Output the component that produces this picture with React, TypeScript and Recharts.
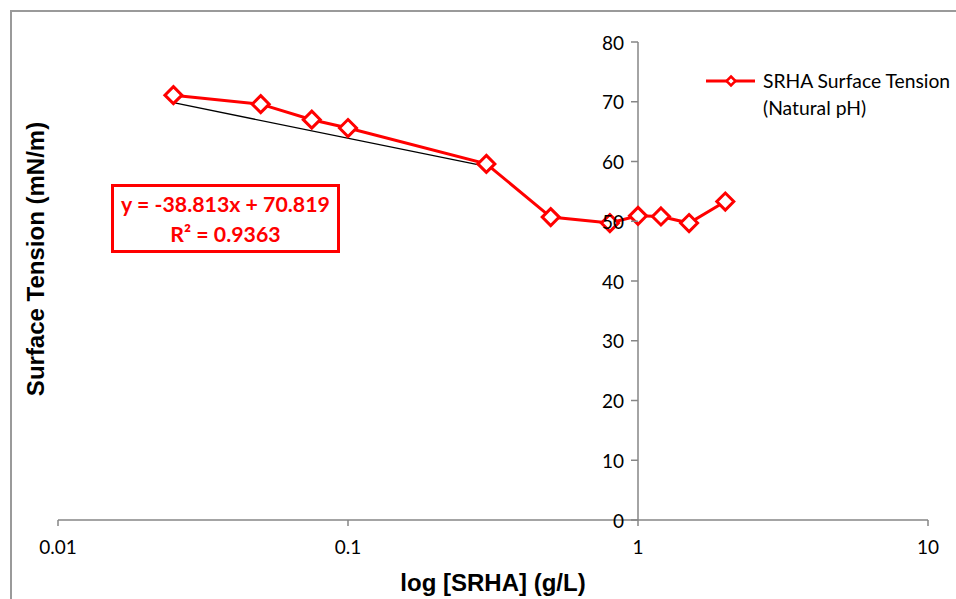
import React from 'react';
import { ComposedChart, Line, XAxis, YAxis, ReferenceLine, Label } from 'recharts';

const concentration = [0.025, 0.05, 0.075, 0.1, 0.3, 0.5, 0.8, 1, 1.2, 1.5, 2];
const tension = [71.1, 69.6, 67.0, 65.6, 59.6, 50.7, 49.7, 50.9, 50.8, 49.7, 53.3];
const trendX = [0.025, 0.3];
const trendY = [69.85, 59.18];
const xTicks = [0.01, 0.1, 1, 10];
const yTicks = [0, 10, 20, 30, 40, 50, 60, 70, 80];
const seriesName = ['SRHA Surface Tension', '(Natural pH)'];
const equationLines = ['y = -38.813x + 70.819', 'R² = 0.9363'];

const seriesData = concentration.map((x, i) => ({ x, y: tension[i] }));
const trendData = trendX.map((x, i) => ({ x, y: trendY[i] }));

const W = 956;
const H = 599;
const MARGIN = { top: 42, right: 28, left: 0, bottom: 0 };
const Y_AXIS_W = 58;
const X_AXIS_H = 79;
const PLOT_LEFT = MARGIN.left + Y_AXIS_W;
const PLOT_RIGHT = W - MARGIN.right;
// y axis crosses at x = 1 (2 of 3 decades along the log axis)
const CROSS_X = PLOT_LEFT + ((PLOT_RIGHT - PLOT_LEFT) * 2) / 3;

const AXIS_GRAY = '#868686';
const RED = '#FF0000';
const TICK_FONT = 'Lato, "Open Sans", sans-serif';
const TITLE_FONT = '"Liberation Sans", Arial, sans-serif';

const Diamond = (props: any) => {
  const { cx, cy, index } = props;
  if (cx == null || cy == null) return null;
  const r = 8.5;
  return (
    <polygon
      key={`d-${index}`}
      points={`${cx},${cy - r} ${cx + r},${cy} ${cx},${cy + r} ${cx - r},${cy}`}
      fill="#FFFFFF"
      stroke={RED}
      strokeWidth={3}
    />
  );
};

const YTick = (props: any) => {
  const { y, payload } = props;
  return (
    <g>
      <line x1={CROSS_X - 7} x2={CROSS_X} y1={y} y2={y} stroke={AXIS_GRAY} strokeWidth={1.5} />
      <text
        x={CROSS_X - 14}
        y={y}
        textAnchor="end"
        dominantBaseline="central"
        fill="#000"
        fontFamily={TICK_FONT}
        fontSize={19}
      >
        {payload.value}
      </text>
    </g>
  );
};

const LegendBox = () => (
  <div
    style={{
      position: 'absolute',
      left: 705,
      top: 66,
      display: 'flex',
      alignItems: 'flex-start',
      fontFamily: TICK_FONT,
      fontSize: 19.3,
      color: '#000',
    }}
  >
    <svg width={52} height={30} style={{ flex: 'none' }}>
      <line x1={1} x2={50} y1={15} y2={15} stroke={RED} strokeWidth={3} />
      <polygon points="26,10.5 30.5,15 26,19.5 21.5,15" fill="#fff" stroke={RED} strokeWidth={2.5} />
    </svg>
    <div style={{ marginLeft: 6, lineHeight: '27px', paddingTop: 1, whiteSpace: 'nowrap' }}>
      <div>{seriesName[0]}</div>
      <div>{seriesName[1]}</div>
    </div>
  </div>
);

export default function App() {
  return (
    <div style={{ position: 'fixed', left: 0, top: 0, width: W, height: H, overflow: 'hidden', background: '#fff' }}>
      <div
        style={{
          position: 'absolute',
          left: 10,
          top: 10,
          width: 1200,
          height: 1200,
          border: '2px solid #9a9a9a',
          boxSizing: 'border-box',
        }}
      />
      <div style={{ position: 'absolute', left: 0, top: 0 }}>
        <ComposedChart width={W} height={H} margin={MARGIN}>
          <XAxis
            dataKey="x"
            type="number"
            scale="log"
            domain={[0.01, 10]}
            ticks={xTicks}
            allowDataOverflow
            height={X_AXIS_H}
            stroke={AXIS_GRAY}
            strokeWidth={1.5}
            tickSize={6}
            tickMargin={15}
            tick={{ fill: '#000', fontFamily: TICK_FONT, fontSize: 19 }}
            tickFormatter={(v: number) => String(v)}
          >
            <Label
              content={() => (
                <text
                  x={(PLOT_LEFT + PLOT_RIGHT) / 2}
                  y={591}
                  textAnchor="middle"
                  fontFamily={TITLE_FONT}
                  fontWeight="bold"
                  fontSize={24}
                  fill="#000"
                >
                  log [SRHA] (g/L)
                </text>
              )}
            />
          </XAxis>
          <YAxis
            type="number"
            domain={[0, 80]}
            ticks={yTicks}
            width={Y_AXIS_W}
            axisLine={false}
            tickLine={false}
            tick={<YTick />}
          >
            <Label
              content={() => (
                <text
                  x={0}
                  y={0}
                  transform={`translate(35 259) rotate(-90)`}
                  textAnchor="middle"
                  dominantBaseline="central"
                  fontFamily={TITLE_FONT}
                  fontWeight="bold"
                  fontSize={24}
                  fill="#000"
                >
                  Surface Tension (mN/m)
                </text>
              )}
            />
          </YAxis>
          <ReferenceLine x={1} stroke={AXIS_GRAY} strokeWidth={1.5} />
          <Line
            data={seriesData}
            dataKey="y"
            name="SRHA Surface Tension (Natural pH)"
            stroke={RED}
            strokeWidth={3}
            dot={Diamond}
            activeDot={false}
            isAnimationActive={false}
          />
          <Line
            data={trendData}
            dataKey="y"
            name="Linear trend"
            stroke="#000"
            strokeWidth={1.3}
            dot={false}
            activeDot={false}
            legendType="none"
            isAnimationActive={false}
          />
        </ComposedChart>
      </div>
      <LegendBox />
      <div
        style={{
          position: 'absolute',
          left: 111,
          top: 184,
          width: 229,
          height: 69,
          border: `3px solid ${RED}`,
          boxSizing: 'border-box',
          display: 'flex',
          flexDirection: 'column',
          justifyContent: 'center',
          alignItems: 'center',
          fontFamily: TICK_FONT,
          fontWeight: 'bold',
          fontSize: 21.3,
          lineHeight: '30px',
          color: RED,
          paddingTop: 1,
        }}
      >
        <div>{equationLines[0]}</div>
        <div>{equationLines[1]}</div>
      </div>
    </div>
  );
}
